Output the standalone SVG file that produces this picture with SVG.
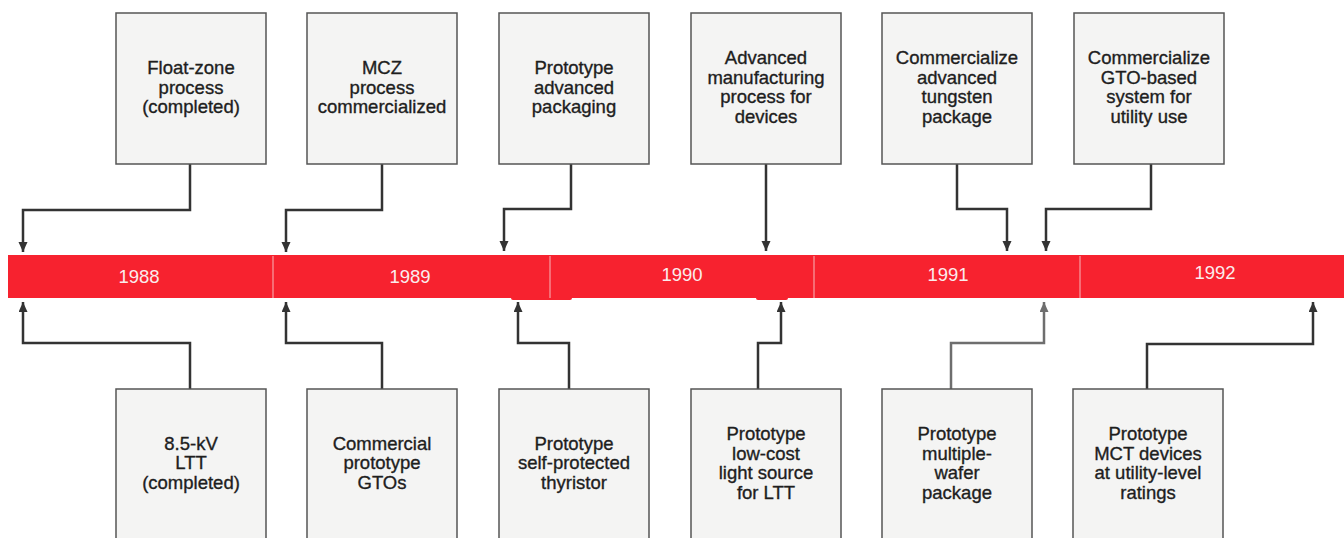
<svg xmlns="http://www.w3.org/2000/svg" width="1344" height="538" viewBox="0 0 1344 538">
<style>
.box{fill:#f4f4f3;stroke:#555;stroke-width:1.5}
.lbl{font-family:"Liberation Sans",Arial,sans-serif;font-size:18.5px;fill:#1e1e1e;stroke:#1e1e1e;stroke-width:0.35;text-anchor:middle}
.yr{font-family:"Liberation Sans",Arial,sans-serif;font-size:18.5px;fill:#fbecec;text-anchor:middle}
.con{fill:none;stroke:#333;stroke-width:2.5;stroke-linejoin:miter}
.div{stroke:#f6a0a4;stroke-width:1.2}
</style>
<defs>
<marker id="ah" markerUnits="userSpaceOnUse" markerWidth="10" markerHeight="10" refX="10" refY="4.5" orient="auto">
<path d="M0,0 L10,4.5 L0,9 z" fill="#333"/>
</marker>
<marker id="ahg" markerUnits="userSpaceOnUse" markerWidth="10" markerHeight="10" refX="10" refY="4.5" orient="auto">
<path d="M0,0 L10,4.5 L0,9 z" fill="#6e6e6e"/>
</marker>
</defs>
<rect width="1344" height="538" fill="#ffffff"/>

<g id="timeline">
<rect x="8" y="255" width="1336" height="43" fill="#f7222f"/>
<rect x="511" y="295" width="61" height="5" rx="2" fill="#f7222f"/>
<rect x="756" y="295" width="32" height="5" rx="2" fill="#f7222f"/>
<line class="div" x1="273" y1="256" x2="273" y2="298"/>
<line class="div" x1="550" y1="256" x2="550" y2="298"/>
<line class="div" x1="814" y1="256" x2="814" y2="298"/>
<line class="div" x1="1080" y1="256" x2="1080" y2="298"/>
<text class="yr" x="139" y="283">1988</text>
<text class="yr" x="410" y="283">1989</text>
<text class="yr" x="682" y="281">1990</text>
<text class="yr" x="948" y="281">1991</text>
<text class="yr" x="1215" y="279">1992</text>
</g>

<g id="connectors">
<path class="con" marker-end="url(#ah)" d="M190,164 V210 H23 V252"/>
<path class="con" marker-end="url(#ah)" d="M382,164 V210 H286 V252"/>
<path class="con" marker-end="url(#ah)" d="M571,164 V209 H504 V251"/>
<path class="con" marker-end="url(#ah)" d="M766,164 V251"/>
<path class="con" marker-end="url(#ah)" d="M957,164 V209 H1007 V251"/>
<path class="con" marker-end="url(#ah)" d="M1151,164 V209 H1046 V251"/>
<path class="con" marker-end="url(#ah)" d="M190,389 V343 H23 V302"/>
<path class="con" marker-end="url(#ah)" d="M382,389 V343 H286 V302"/>
<path class="con" marker-end="url(#ah)" d="M569,389 V343 H518 V302"/>
<path class="con" marker-end="url(#ah)" d="M758,389 V343 H781 V302"/>
<path class="con" style="stroke:#6e6e6e" marker-end="url(#ahg)" d="M951,389 V343 H1044 V302"/>
<path class="con" marker-end="url(#ah)" d="M1147,389 V344 H1313 V302"/>
</g>

<g id="n1"><rect class="box" x="116" y="13" width="150" height="151"/>
<text class="lbl"><tspan x="191" y="74">Float-zone</tspan><tspan x="191" y="93.5">process</tspan><tspan x="191" y="113">(completed)</tspan></text></g>
<g id="n2"><rect class="box" x="307" y="13" width="150" height="151"/>
<text class="lbl"><tspan x="382" y="74">MCZ</tspan><tspan x="382" y="93.5">process</tspan><tspan x="382" y="113">commercialized</tspan></text></g>
<g id="n3"><rect class="box" x="499" y="13" width="150" height="151"/>
<text class="lbl"><tspan x="574" y="74">Prototype</tspan><tspan x="574" y="93.5">advanced</tspan><tspan x="574" y="113">packaging</tspan></text></g>
<g id="n4"><rect class="box" x="691" y="13" width="150" height="151"/>
<text class="lbl"><tspan x="766" y="64">Advanced</tspan><tspan x="766" y="83.5">manufacturing</tspan><tspan x="766" y="103">process for</tspan><tspan x="766" y="122.5">devices</tspan></text></g>
<g id="n5"><rect class="box" x="882" y="13" width="150" height="151"/>
<text class="lbl"><tspan x="957" y="64">Commercialize</tspan><tspan x="957" y="83.5">advanced</tspan><tspan x="957" y="103">tungsten</tspan><tspan x="957" y="122.5">package</tspan></text></g>
<g id="n6"><rect class="box" x="1074" y="13" width="150" height="151"/>
<text class="lbl"><tspan x="1149" y="64">Commercialize</tspan><tspan x="1149" y="83.5">GTO-based</tspan><tspan x="1149" y="103">system for</tspan><tspan x="1149" y="122.5">utility use</tspan></text></g>

<g id="n7"><rect class="box" x="116" y="389" width="150" height="155"/>
<text class="lbl"><tspan x="191" y="450">8.5-kV</tspan><tspan x="191" y="469">LTT</tspan><tspan x="191" y="488.5">(completed)</tspan></text></g>
<g id="n8"><rect class="box" x="307" y="389" width="150" height="155"/>
<text class="lbl"><tspan x="382" y="450">Commercial</tspan><tspan x="382" y="469">prototype</tspan><tspan x="382" y="488.5">GTOs</tspan></text></g>
<g id="n9"><rect class="box" x="499" y="389" width="150" height="155"/>
<text class="lbl"><tspan x="574" y="450">Prototype</tspan><tspan x="574" y="469">self-protected</tspan><tspan x="574" y="488.5">thyristor</tspan></text></g>
<g id="n10"><rect class="box" x="691" y="389" width="150" height="155"/>
<text class="lbl"><tspan x="766" y="440">Prototype</tspan><tspan x="766" y="459.5">low-cost</tspan><tspan x="766" y="479">light source</tspan><tspan x="766" y="498.5">for LTT</tspan></text></g>
<g id="n11"><rect class="box" x="882" y="389" width="150" height="155"/>
<text class="lbl"><tspan x="957" y="440">Prototype</tspan><tspan x="957" y="459.5">multiple-</tspan><tspan x="957" y="479">wafer</tspan><tspan x="957" y="498.5">package</tspan></text></g>
<g id="n12"><rect class="box" x="1073" y="389" width="150" height="155"/>
<text class="lbl"><tspan x="1148" y="440">Prototype</tspan><tspan x="1148" y="459.5">MCT devices</tspan><tspan x="1148" y="479">at utility-level</tspan><tspan x="1148" y="498.5">ratings</tspan></text></g>
</svg>
